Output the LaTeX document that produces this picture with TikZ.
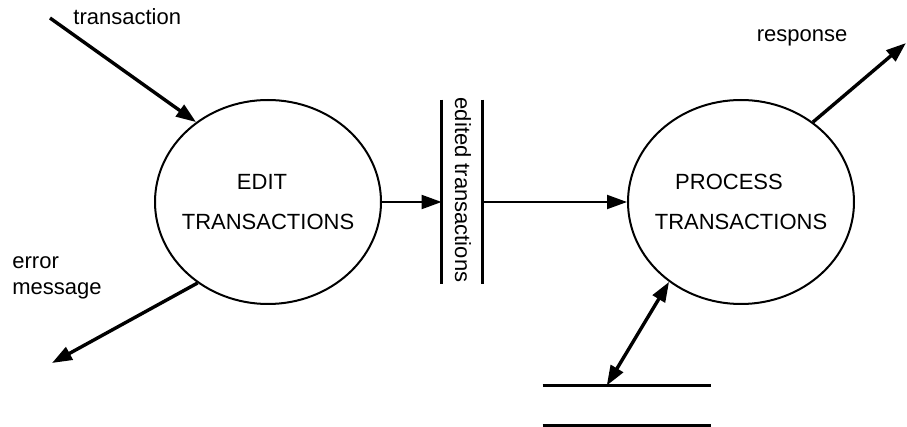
\documentclass[tikz,border=0pt]{standalone}
\usepackage{fontspec}
\setmainfont{Liberation Sans}
\usetikzlibrary{calc, arrows.meta, shapes.geometric}

\tikzset{
  bubble/.style={ellipse, draw, line width=1pt, minimum width=113pt,
    minimum height=102pt, inner sep=0pt, align=center, font=\fontsize{11}{20}\selectfont},
  flow/.style={line width=1.7pt, -{Triangle[length=10pt, width=7pt]}},
  thinflow/.style={line width=1pt, -{Triangle[length=10pt, width=7pt]}},
  lbl/.style={font=\fontsize{11}{13}\selectfont, inner sep=0pt, align=left},
  storeline/.style={line width=1.2pt}
}

\begin{document}
\begin{tikzpicture}[x=0.5pt, y=-0.5pt]
  \useasboundingbox (0,0) rectangle (907,427);
  % processes
  \node[bubble] (edit) at (268,202) {\makebox[0pt]{\hspace*{-6pt}EDIT}\\\makebox[0pt]{TRANSACTIONS}};
  \node[bubble] (proc) at (741,202) {\makebox[0pt]{\hspace*{-12pt}PROCESS}\\\makebox[0pt]{TRANSACTIONS}};
  % stores
  \node[minimum width=20pt, minimum height=92pt, inner sep=0pt] (store) at (462,192) {};
  \draw[storeline] (store.north west) -- (store.south west);
  \draw[storeline] (store.north east) -- (store.south east);
  \node[lbl, rotate=-90] (storetxt) at (463,190) {edited transactions};
  \node[minimum width=84pt, minimum height=19.5pt, inner sep=0pt] (db) at (627,405.5) {};
  \draw[storeline] (db.north west) -- (db.north east);
  \draw[storeline] (db.south west) -- (db.south east);
  % free ends
  \coordinate (trin) at (50,18);
  \coordinate (errout) at (52,363);
  \coordinate (respout) at (906,43);
  % flows
  \draw[flow] (trin) -- (edit.132);
  \draw[flow] (edit.229) -- (errout);
  \draw[thinflow] (edit.east) -- (edit.east -| store.west);
  \draw[thinflow] (proc.west -| store.east) -- (proc.west);
  \draw[flow] (proc.48) -- (respout);
  \draw[flow, {Triangle[length=10pt, width=7pt]}-{Triangle[length=10pt, width=7pt]}]
    (proc.228) -- ($(db.north west)!0.38!(db.north east)$);
  % labels
  \node[lbl, anchor=west] (trlbl) at (73,17) {transaction};
  \node[lbl, anchor=north west] (errlbl) at (12,256) {error\\message};
  \node[lbl] (resplbl) at (802,38) {response};
\end{tikzpicture}
\end{document}
